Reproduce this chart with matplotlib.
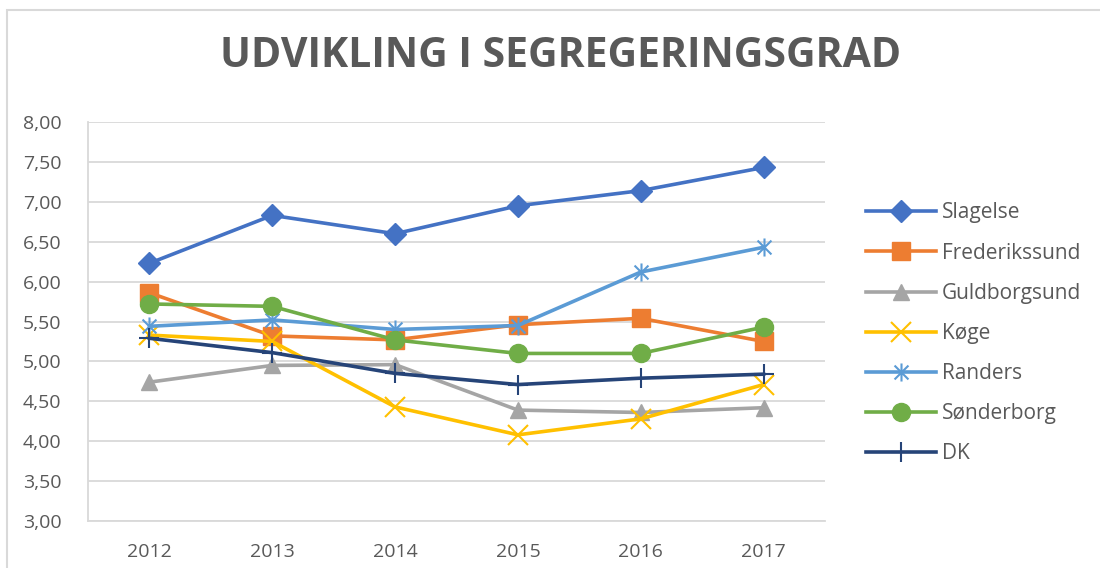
import matplotlib.pyplot as plt
import numpy as np
from matplotlib.path import Path
from matplotlib.patches import Rectangle
from matplotlib.ticker import FuncFormatter

years = ['2012', '2013', '2014', '2015', '2016', '2017']
series_names = ['Slagelse', 'Frederikssund', 'Guldborgsund', 'Køge', 'Randers', 'Sønderborg', 'DK']
slagelse = [6.23, 6.83, 6.60, 6.95, 7.14, 7.43]
frederikssund = [5.86, 5.32, 5.27, 5.46, 5.54, 5.25]
guldborgsund = [4.74, 4.95, 4.96, 4.39, 4.36, 4.42]
koge = [5.33, 5.25, 4.43, 4.08, 4.28, 4.71]
randers = [5.44, 5.52, 5.40, 5.45, 6.12, 6.43]
sonderborg = [5.72, 5.69, 5.27, 5.10, 5.10, 5.43]
dk = [5.29, 5.11, 4.85, 4.71, 4.79, 4.84]

colors = ['#4472C4', '#ED7D31', '#A5A5A5', '#FFC000', '#5B9BD5', '#70AD47', '#264478']

# excel-ish star marker: x plus vertical bar
star = Path([(-1, -1), (1, 1), (-1, 1), (1, -1), (0, -1.3), (0, 1.3)],
            [Path.MOVETO, Path.LINETO, Path.MOVETO, Path.LINETO, Path.MOVETO, Path.LINETO])
markers = ['D', 's', '^', 'x', star, 'o', '+']
msizes = [11, 13, 12, 14, 13, 13, 15]

plt.rcParams['font.family'] = ['Open Sans', 'DejaVu Sans']
fig = plt.figure(figsize=(11, 5.68), dpi=100)
fig.patches.append(Rectangle((0.006, -0.1), 1.2, 1.082, transform=fig.transFigure,
                             fill=False, edgecolor='#D9D9D9', linewidth=1.5))
ax = fig.add_axes([0.08, 0.0827, 0.67, 0.7025])

x = np.arange(len(years))
data = [slagelse, frederikssund, guldborgsund, koge, randers, sonderborg, dk]
for name, vals, c, m, ms in zip(series_names, data, colors, markers, msizes):
    ax.plot(x, vals, color=c, linewidth=2.6, marker=m, markersize=ms,
            markeredgewidth=1.5 if m in ('x', '+') or m is star else 1,
            markeredgecolor=c, markerfacecolor=c, label=name)

ax.set_ylim(3, 8)
ax.set_yticks(np.arange(3, 8.01, 0.5))
ax.yaxis.set_major_formatter(FuncFormatter(lambda v, p: f'{v:.2f}'.replace('.', ',')))
ax.set_xlim(-0.5, 5.5)
ax.set_xticks(x)
ax.set_xticklabels(years)
ax.grid(axis='y', color='#D9D9D9', linewidth=1.3)
ax.set_axisbelow(True)
for s in ['top', 'right']:
    ax.spines[s].set_visible(False)
for s in ['left', 'bottom']:
    ax.spines[s].set_color('#D9D9D9')
    ax.spines[s].set_linewidth(1.3)
ax.tick_params(length=0, labelsize=14, colors='#595959')
ax.tick_params(axis='x', pad=16)
ax.tick_params(axis='y', pad=19)

fig.text(0.51, 0.9, 'UDVIKLING I SEGREGERINGSGRAD', ha='center', va='center',
         fontsize=29.5, fontweight='bold', color='#595959')

leg = ax.legend(loc='center left', bbox_to_anchor=(1.055, 0.47), frameon=False,
                fontsize=15, labelcolor='#595959', handlelength=3.4,
                labelspacing=0.92, handletextpad=0.25, borderaxespad=0, borderpad=0)

fig.savefig('out.png', dpi=100)
